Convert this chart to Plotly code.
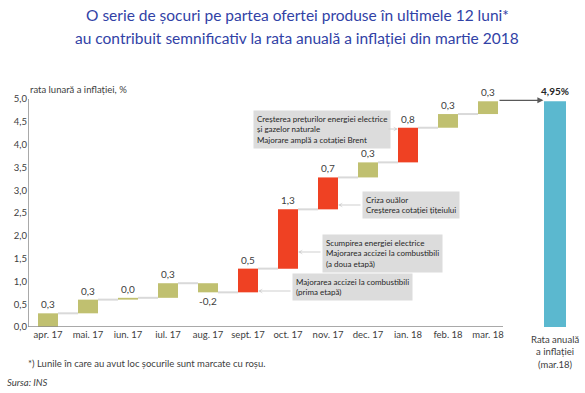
import plotly.graph_objects as go
import numpy as np

months = ["apr. 17", "mai. 17", "iun. 17", "iul. 17", "aug. 17", "sept. 17",
          "oct. 17", "nov. 17", "dec. 17", "ian. 18", "feb. 18", "mar. 18"]
monthly = [0.30, 0.30, 0.04, 0.32, -0.20, 0.52, 1.30, 0.70, 0.33, 0.76, 0.30, 0.28]
shock = [False, False, False, False, False, True, True, True, False, True, False, False]
annual_label = "Rata anuală<br>a inflației<br>(mar.18)"
annual_value = 4.95

OLIVE = "#C0C070"
RED = "#EF4123"
TEAL = "#5BB8CF"
TXT = "#404040"
FONT = "Lato"

x = np.arange(len(months))
ends = np.cumsum(monthly)
starts = ends - np.array(monthly)
X_TOTAL = 12.675

fig = go.Figure()
fig.add_trace(go.Bar(
    x=x, y=monthly, base=starts, width=0.5,
    marker=dict(color=[RED if s else OLIVE for s in shock], line=dict(width=0)),
    text=[f"{v:.1f}".replace(".", ",") for v in monthly],
    textposition="outside", textfont=dict(size=10, color=TXT, family=FONT),
    cliponaxis=False, showlegend=False, hoverinfo="skip",
))
fig.add_trace(go.Bar(
    x=[X_TOTAL], y=[annual_value], width=0.55,
    marker=dict(color=TEAL, line=dict(width=0)),
    showlegend=False, hoverinfo="skip",
))

shapes = []
# connectors
for i in range(len(months) - 1):
    shapes.append(dict(type="line", xref="x", yref="y", x0=i + 0.25, x1=i + 0.75,
                       y0=ends[i], y1=ends[i], line=dict(color="#D9D9D9", width=2)))
# axes lines
shapes.append(dict(type="line", xref="x", yref="y", x0=-0.5, x1=11.375, y0=0, y1=0,
                   line=dict(color="#8C8C8C", width=1.5)))
shapes.append(dict(type="line", xref="x", yref="y", x0=-0.5, x1=-0.5, y0=0, y1=5,
                   line=dict(color="#8C8C8C", width=1.5)))

L, W, T, H = 28, 548, 99, 228
def px(xp):
    return (xp - L) / W
def py(yp):
    return (T + H - yp) / H

ann = []
# title
ann.append(dict(xref="paper", yref="paper", x=px(297), y=py(15), xanchor="center", yanchor="middle",
                text="O serie de șocuri pe partea ofertei produse în ultimele 12 luni*",
                showarrow=False, font=dict(size=15.5, color="#3142A6", family=FONT)))
ann.append(dict(xref="paper", yref="paper", x=px(297), y=py(37.5), xanchor="center", yanchor="middle",
                text="au contribuit semnificativ la rata anuală a inflației din martie 2018",
                showarrow=False, font=dict(size=15.5, color="#3142A6", family=FONT)))
# y axis title
ann.append(dict(xref="paper", yref="paper", x=px(28), y=py(89), xanchor="left", yanchor="middle",
                text="rata lunară a inflației, %", showarrow=False,
                font=dict(size=9.5, color=TXT, family=FONT)))
# total label
ann.append(dict(xref="x", yref="y", x=X_TOTAL, y=annual_value, yanchor="bottom", yshift=2,
                text="<b>" + f"{annual_value:.2f}".replace(".", ",") + "%</b>", showarrow=False,
                font=dict(size=10, color="#262626", family=FONT)))
# total category label
ann.append(dict(xref="x", yref="paper", x=X_TOTAL, y=py(332), yanchor="top",
                text=annual_label, showarrow=False, align="center",
                font=dict(size=9.5, color=TXT, family=FONT)))
# arrow to total
ann.append(dict(xref="x", yref="y", axref="x", ayref="y", x=X_TOTAL - 0.29, y=ends[-1] + 0.02,
                ax=11.25, ay=ends[-1] + 0.02, text="", showarrow=True, arrowhead=2,
                arrowsize=1, arrowwidth=1.2, arrowcolor="#595959"))

boxes = [
    ("Creșterea prețurilor energiei electrice<br>și gazelor naturale<br>Majorare amplă a cotației Brent",
     253, 129, 387, 9 - 0.25, 129),
    ("Criza ouălor<br>Creșterea cotației țițeiului", 362, 205, 362, 7 + 0.25, 205),
    ("Scumpirea energiei electrice<br>Majorarea accizei la combustibili<br>(a doua etapă)",
     322, 253, 322, 6 + 0.25, 252),
    ("Majorarea accizei la combustibili<br>(prima etapă)", 292, 286.5, 292, 5 + 0.25, 291),
]
for text, bx, by, tail_px, head_x, ay_px in boxes:
    ann.append(dict(xref="paper", yref="paper", x=px(bx), y=py(by), xanchor="left", yanchor="middle",
                    text=text, align="left", showarrow=False, bgcolor="#DCDCDC",
                    borderpad=3, font=dict(size=8, color="#262626", family=FONT)))
    yv = (T + H - ay_px) / H * 5
    ann.append(dict(xref="x", yref="y", axref="x", ayref="y",
                    x=head_x, y=yv, ax=(tail_px - 48) / 40, ay=yv, text="",
                    showarrow=True, arrowhead=3, arrowsize=0.7, arrowwidth=1.2,
                    arrowcolor="#CFCFCF"))

# footnotes
ann.append(dict(xref="paper", yref="paper", x=px(26), y=py(363), xanchor="left", yanchor="middle",
                text="*) Lunile în care au avut loc șocurile sunt marcate cu roșu.", showarrow=False,
                font=dict(size=9.5, color=TXT, family=FONT)))
ann.append(dict(xref="paper", yref="paper", x=px(5), y=py(382), xanchor="left", yanchor="middle",
                text="<i>Sursa: INS</i>", showarrow=False,
                font=dict(size=9.5, color=TXT, family=FONT)))

fig.update_layout(
    width=585, height=393,
    margin=dict(l=L, r=585 - L - W, t=T, b=393 - T - H, pad=0, autoexpand=False),
    paper_bgcolor="white", plot_bgcolor="white",
    separators=", ",
    barmode="overlay",
    font=dict(family=FONT, color=TXT),
    xaxis=dict(range=[-0.5, 13.2], tickvals=list(x), ticktext=months, showgrid=False,
               zeroline=False, showline=False, ticks="", automargin=False,
               tickfont=dict(size=9.5, color=TXT)),
    yaxis=dict(range=[0, 5], dtick=0.5, tickformat=".1f", showgrid=False, zeroline=False,
               showline=False, ticks="", automargin=False, tickfont=dict(size=9.5, color=TXT)),
    shapes=shapes, annotations=ann,
)

fig.write_html("out.html", config={"displayModeBar": False, "staticPlot": True},
               post_script="document.body.style.margin='0';document.body.style.overflow='hidden';")
